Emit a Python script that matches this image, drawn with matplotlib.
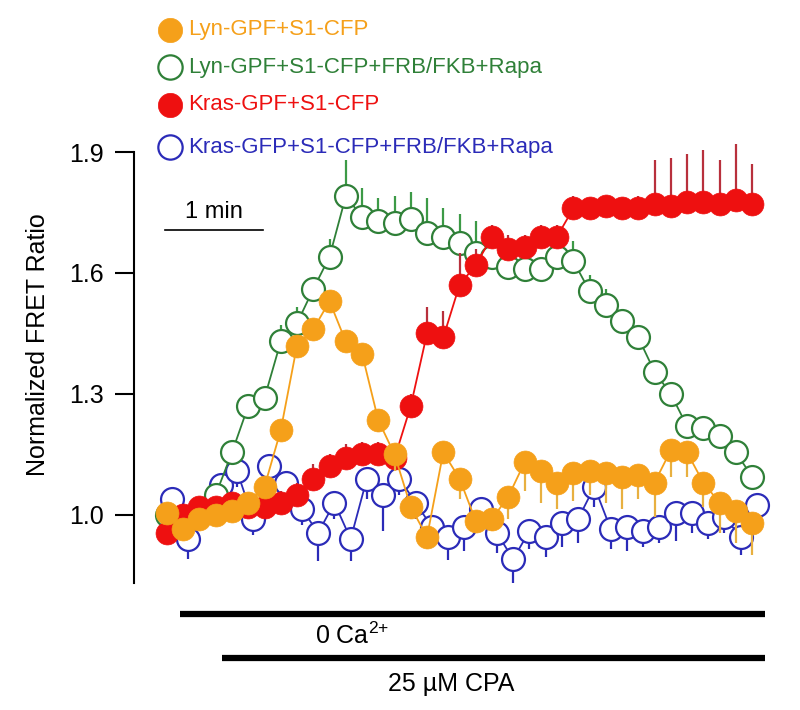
"""Normalized FRET ratio traces: Lyn / Kras targeted sensors during 0 Ca2+ + CPA.

One frame every 10 s. Filled = sensor alone, open = + FRB/FKB + Rapa.
Error bars are one-sided (up for green/red, down for orange/blue) like the original panel.
"""
import numpy as np
import matplotlib
matplotlib.use("Agg")
import matplotlib.pyplot as plt

W, H, DPI = 800, 710, 100

# --- data ---
t = np.arange(37) * 10.0          # s
t_blue = t + 3.0                  # blue trace sampled slightly later

lyn = [1.005, 0.965, 0.99, 1.00, 1.01, 1.03, 1.07, 1.21, 1.42, 1.46, 1.53, 1.43, 1.40,
       1.235, 1.15, 1.02, 0.945, 1.155, 1.09, 0.985, 0.99, 1.045, 1.13, 1.11, 1.08,
       1.105, 1.11, 1.105, 1.095, 1.10, 1.08, 1.16, 1.155, 1.08, 1.03, 1.01, 0.98]
lyn_err = [0.02, 0.02, 0.015, 0.02, 0.02, 0.02, 0.02, 0.02, 0.03, 0.02, 0.02, 0.02, 0.02,
           0.03, 0.04, 0.03, 0.03, 0.03, 0.05, 0.03, 0.03, 0.055, 0.07, 0.08, 0.065,
           0.07, 0.06, 0.075, 0.08, 0.06, 0.085, 0.065, 0.06, 0.06, 0.075, 0.08, 0.08]

lyn_rapa = [1.00, 0.99, 1.01, 1.05, 1.155, 1.27, 1.29, 1.43, 1.475, 1.56, 1.64, 1.79, 1.74,
            1.73, 1.725, 1.735, 1.70, 1.69, 1.675, 1.65, 1.64, 1.615, 1.61, 1.61, 1.64,
            1.63, 1.555, 1.52, 1.48, 1.44, 1.355, 1.30, 1.22, 1.215, 1.195, 1.155, 1.095]
lyn_rapa_err = [0.02, 0.02, 0.02, 0.02, 0.02, 0.03, 0.03, 0.04, 0.04, 0.03, 0.045, 0.09, 0.07,
                0.055, 0.065, 0.065, 0.085, 0.07, 0.07, 0.08, 0.05, 0.04, 0.03, 0.03, 0.05,
                0.05, 0.04, 0.04, 0.03, 0.03, 0.025, 0.02, 0.02, 0.02, 0.02, 0.02, 0.02]

kras = [0.955, 1.00, 1.02, 1.02, 1.03, 1.02, 1.02, 1.03, 1.05, 1.09, 1.12, 1.14, 1.15,
        1.15, 1.14, 1.27, 1.45, 1.44, 1.57, 1.62, 1.69, 1.66, 1.665, 1.69, 1.69,
        1.76, 1.76, 1.765, 1.76, 1.76, 1.77, 1.765, 1.775, 1.775, 1.77, 1.78, 1.77]
kras_err = [0.01, 0.015, 0.02, 0.02, 0.02, 0.025, 0.02, 0.03, 0.03, 0.035, 0.03, 0.035, 0.03,
            0.03, 0.03, 0.03, 0.065, 0.065, 0.08, 0.04, 0.03, 0.035, 0.03, 0.03, 0.03,
            0.03, 0.02, 0.02, 0.02, 0.03, 0.11, 0.12, 0.12, 0.13, 0.11, 0.14, 0.10]

kras_rapa = [1.04, 0.94, 1.01, 1.075, 1.11, 0.99, 1.12, 1.08, 1.015, 0.955, 1.03, 0.94, 1.09,
             1.05, 1.09, 1.03, 0.97, 0.945, 0.97, 1.015, 0.955, 0.89, 0.96, 0.945, 0.98,
             0.99, 1.07, 0.965, 0.97, 0.96, 0.97, 1.005, 1.005, 0.98, 0.995, 0.945, 1.025]
kras_rapa_err = [0.03, 0.05, 0.03, 0.03, 0.04, 0.04, 0.04, 0.03, 0.04, 0.07, 0.04, 0.055, 0.05,
                 0.09, 0.04, 0.04, 0.05, 0.057, 0.06, 0.04, 0.05, 0.06, 0.045, 0.05, 0.06,
                 0.06, 0.05, 0.05, 0.06, 0.04, 0.04, 0.07, 0.05, 0.04, 0.04, 0.045, 0.04]

labels = ["Lyn-GPF+S1-CFP", "Lyn-GPF+S1-CFP+FRB/FKB+Rapa",
          "Kras-GPF+S1-CFP", "Kras-GFP+S1-CFP+FRB/FKB+Rapa"]
yticks = [1.0, 1.3, 1.6, 1.9]

ORANGE, GREEN, RED, BLUE = "#f5a01a", "#2f8038", "#ee1010", "#2b2bb8"

plt.rcParams["font.family"] = ["Liberation Sans", "DejaVu Sans"]
plt.rcParams["mathtext.default"] = "regular"


def px(x, y):
    """figure pixel (from top-left) -> figure fraction"""
    return x / W, 1 - y / H


def trace(ax, tt, y, err, up, color, ecolor, filled, z):
    y, err = np.asarray(y), np.asarray(err)
    tip = y + err if up else y - err
    ax.vlines(tt, y, tip, colors=ecolor, lw=1.6, zorder=z, clip_on=False)
    ax.plot(tt, y, "-", color=color, lw=1.3, zorder=z + 0.1, clip_on=False)
    ax.plot(tt, y, "o", ms=16.5, mfc=color if filled else "white", mec=color,
            mew=0.5 if filled else 1.6, zorder=z + 0.2, clip_on=False)


fig = plt.figure(figsize=(W / DPI, H / DPI), dpi=DPI)
# axes box in pixels: spine at x=134, y from 152 (1.9) to 583
l, b = px(134, 583)
r, tp = px(780, 152)
ax = fig.add_axes([l, b, r - l, tp - b])
ax.set_xlim(-20.3, 377.2)
ax.set_ylim(0.831, 1.9)

# back -> front: blue, green, red, orange
trace(ax, t_blue, kras_rapa, kras_rapa_err, False, BLUE, BLUE, False, 1)
trace(ax, t, lyn_rapa, lyn_rapa_err, True, GREEN, "#3c9a46", False, 2)
trace(ax, t, kras, kras_err, True, RED, "#b8303c", True, 3)
trace(ax, t, lyn, lyn_err, False, ORANGE, "#e8b040", True, 4)

for s in ["top", "right", "bottom"]:
    ax.spines[s].set_visible(False)
ax.spines["left"].set_linewidth(1.5)
ax.set_xticks([])
ax.set_yticks(yticks)
ax.set_yticklabels([f"{v:.1f}" for v in yticks])
ax.tick_params(axis="y", direction="out", length=14, width=1.5, pad=8, labelsize=18)
fig.text(*px(38, 345), "Normalized FRET Ratio", rotation=90, ha="center", va="center",
         fontsize=18)

# 1 min scale bar
ax.plot([-1, 59], [1.707, 1.707], color="black", lw=1.2, clip_on=False)
ax.text(29, 1.752, "1 min", ha="center", va="center", fontsize=17)

# treatment bars
ax.plot([8, 368], [0.7545, 0.7545], color="black", lw=4.5, solid_capstyle="butt", clip_on=False)
ax.text(114, 0.70, "0 Ca$^{2{+}}$", ha="center", va="center", fontsize=18)
ax.plot([33.8, 368], [0.645, 0.645], color="black", lw=4.5, solid_capstyle="butt", clip_on=False)
ax.text(175, 0.581, "25 \u00b5M CPA", ha="center", va="center", fontsize=18)

# hand-placed legend (top-left, outside axes)
legend_rows = [(30, ORANGE, True), (67, GREEN, False), (105, RED, True), (147, BLUE, False)]
for (yy, c, filled), lab in zip(legend_rows, labels):
    mx, my = px(170, yy)
    fig.add_artist(plt.Line2D([mx], [my], marker="o", ms=17.5, mfc=c if filled else "white",
                              mec=c, mew=0.5 if filled else 1.6, transform=fig.transFigure))
    fig.text(*px(188, yy), lab, color=c, ha="left", va="center", fontsize=16)

fig.savefig("out.png", dpi=DPI)
